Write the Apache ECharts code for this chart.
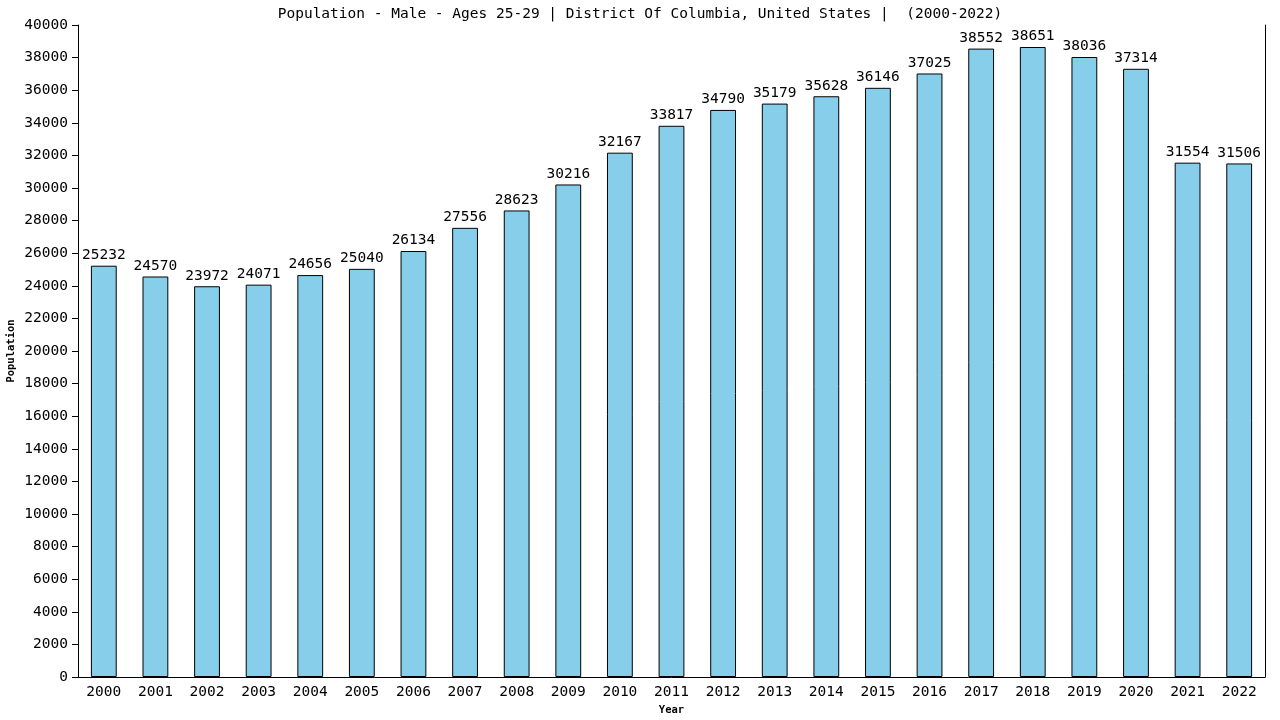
<!DOCTYPE html>
<html>
<head>
<meta charset="utf-8">
<script src="https://cdn.jsdelivr.net/npm/echarts@6/dist/echarts.min.js"></script>
<style>
  html, body { margin: 0; padding: 0; background: #fff; }
  #chart { width: 1280px; height: 720px; }
</style>
</head>
<body>
<div id="chart"></div>
<script>
// data
const years = ['2000', '2001', '2002', '2003', '2004', '2005', '2006', '2007', '2008', '2009', '2010', '2011',
  '2012', '2013', '2014', '2015', '2016', '2017', '2018', '2019', '2020', '2021', '2022']
const population = [25232, 24570, 23972, 24071, 24656, 25040, 26134, 27556, 28623, 30216, 32167, 33817,
  34790, 35179, 35628, 36146, 37025, 38552, 38651, 38036, 37314, 31554, 31506]

const titleText = 'Population - Male - Ages 25-29 | District Of Columbia, United States |  (2000-2022)'
const font = '"DejaVu Sans Mono", monospace'

const chart = echarts.init(document.getElementById('chart'))
chart.setOption({
  animation: false,
  backgroundColor: '#fff',
  title: {
    text: titleText,
    left: 'center',
    top: 2,
    textStyle: { fontFamily: font, fontSize: 14.5, fontWeight: 'normal', color: '#000' }
  },
  grid: { left: 78, right: 15, top: 25, bottom: 43, containLabel: false, outerBoundsMode: 'none' },
  xAxis: {
    type: 'category',
    data: years,
    name: 'Year',
    nameLocation: 'middle',
    nameGap: 27,
    nameTextStyle: { fontFamily: font, fontSize: 10.5, fontWeight: 'bold', color: '#000' },
    axisLine: { lineStyle: { color: '#000', width: 1 } },
    axisTick: { show: false },
    axisLabel: { fontFamily: font, fontSize: 14.5, color: '#000', margin: 8, interval: 0 }
  },
  yAxis: [{
    type: 'value',
    min: 0,
    max: 40000,
    interval: 2000,
    name: 'Population',
    nameLocation: 'middle',
    nameGap: 61,
    nameMoveOverlap: false,
    nameTextStyle: { fontFamily: font, fontSize: 10.5, fontWeight: 'bold', color: '#000' },
    axisLine: { show: true, lineStyle: { color: '#000', width: 1 } },
    axisTick: { show: true, length: 6, lineStyle: { color: '#000' } },
    axisLabel: { fontFamily: font, fontSize: 14.5, color: '#000', margin: 10, formatter: v => String(v) },
    splitLine: { show: false }
  }, {
    type: 'value',
    min: 0,
    max: 40000,
    position: 'right',
    axisLine: { show: true, lineStyle: { color: '#000', width: 1 } },
    axisTick: { show: false },
    axisLabel: { show: false },
    splitLine: { show: false }
  }],
  series: [{
    type: 'bar',
    data: population,
    barWidth: '50%',
    itemStyle: { color: '#87CEEB', borderColor: '#000', borderWidth: 1 },
    label: {
      show: true,
      position: 'top',
      distance: 3,
      fontFamily: font,
      fontSize: 14.5,
      color: '#000'
    }
  }]
})
</script>
</body>
</html>
